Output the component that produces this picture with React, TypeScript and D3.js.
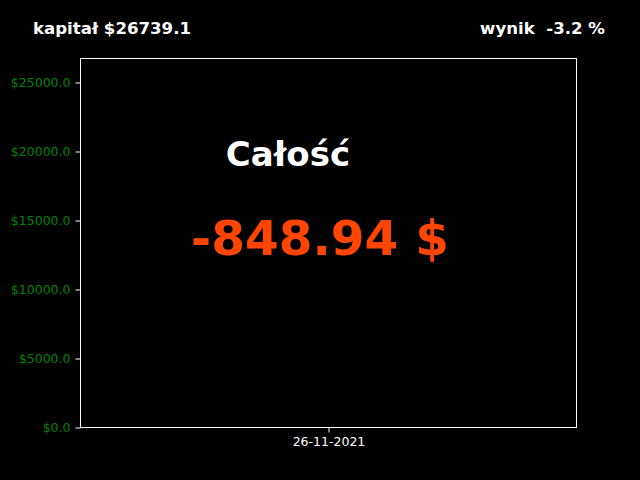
import React, { useEffect, useRef } from 'react';
import * as d3 from 'd3';

const dates = ['26-11-2021'];
const capital = 26739.1;
const resultPct = -3.2;
const totalChange = -848.94;
const yTicks = [0, 5000, 10000, 15000, 20000, 25000];

const W = 640;
const H = 480;
const margin = { top: 58, right: 64, bottom: 53, left: 80 };

export default function App() {
  const svgRef = useRef<SVGSVGElement>(null);

  useEffect(() => {
    if (!svgRef.current) return;
    const svg = d3.select(svgRef.current);
    svg.selectAll('*').remove();

    const innerW = W - margin.left - margin.right;
    const innerH = H - margin.top - margin.bottom;

    svg.append('rect').attr('width', W).attr('height', H).attr('fill', '#000');

    // half-pixel offset keeps the 1px lines crisp
    const g = svg
      .append('g')
      .attr('transform', `translate(${margin.left + 0.5},${margin.top + 0.5})`);

    const x = d3.scalePoint<string>().domain(dates).range([0, innerW]).padding(0.5);
    const y = d3.scaleLinear().domain([0, capital]).range([innerH, 0]);

    // y axis
    const yAxis = g
      .append('g')
      .call(
        d3
          .axisLeft(y)
          .tickValues(yTicks)
          .tickSize(5)
          .tickPadding(5)
          .tickFormat((d) => `$${(d as number).toFixed(1)}`)
      );
    yAxis.select('.domain').remove();
    yAxis.selectAll('line').attr('stroke', '#fff');
    yAxis
      .selectAll('text')
      .attr('fill', 'green')
      .style('font-family', 'DejaVu Sans')
      .style('font-size', '12.5px');

    // x axis
    const xAxis = g
      .append('g')
      .attr('transform', `translate(0,${innerH})`)
      .call(d3.axisBottom(x).tickSize(5).tickPadding(5));
    xAxis.select('.domain').remove();
    xAxis.selectAll('line').attr('stroke', '#fff');
    xAxis
      .selectAll('text')
      .attr('fill', '#fff')
      .style('font-family', 'DejaVu Sans')
      .style('font-size', '12.5px');

    // frame
    g.append('rect')
      .attr('x', 0)
      .attr('y', 0)
      .attr('width', innerW)
      .attr('height', innerH)
      .attr('fill', 'none')
      .attr('stroke', '#fff')
      .attr('stroke-width', 1);

    // headings
    svg
      .append('text')
      .attr('x', 33)
      .attr('y', 34)
      .attr('fill', '#fff')
      .style('font-family', 'DejaVu Sans')
      .style('font-weight', 'bold')
      .style('font-size', '16.6px')
      .text(`kapitał $${capital}`);

    svg
      .append('text')
      .attr('x', 605)
      .attr('y', 34)
      .attr('text-anchor', 'end')
      .attr('fill', '#fff')
      .style('font-family', 'DejaVu Sans')
      .style('font-weight', 'bold')
      .style('font-size', '16.6px')
      .style('white-space', 'pre')
      .text(`wynik  ${resultPct} %`);

    svg
      .append('text')
      .attr('x', 288)
      .attr('y', 166)
      .attr('text-anchor', 'middle')
      .attr('fill', '#fff')
      .style('font-family', 'DejaVu Sans')
      .style('font-weight', 'bold')
      .style('font-size', '34px')
      .text('Całość');

    svg
      .append('text')
      .attr('x', 320)
      .attr('y', 255)
      .attr('text-anchor', 'middle')
      .attr('fill', '#ff4500')
      .style('font-family', 'DejaVu Sans')
      .style('font-weight', 'bold')
      .style('font-size', '48.5px')
      .text(`${totalChange} $`);
  }, []);

  return (
    <div style={{ position: 'absolute', left: 0, top: 0 }}>
      <svg ref={svgRef} width={W} height={H} style={{ display: 'block' }} />
    </div>
  );
}
